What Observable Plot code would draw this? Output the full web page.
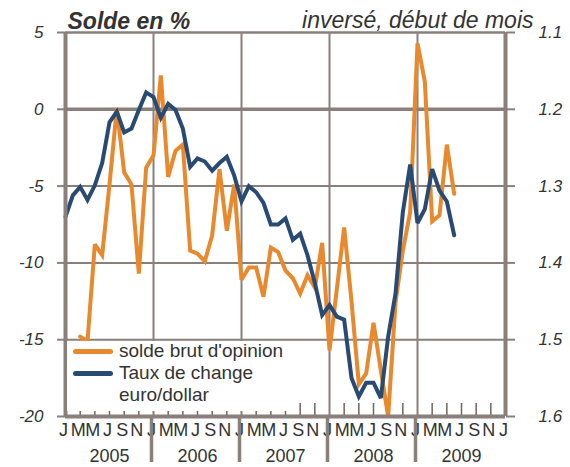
<!DOCTYPE html>
<html>
<head>
<meta charset="utf-8">
<script src="https://cdn.jsdelivr.net/npm/d3@7"></script>
<script src="https://cdn.jsdelivr.net/npm/@observablehq/plot@0.6"></script>
<style>
  html, body { margin: 0; padding: 0; background: #fff; }
  #wrap { position: relative; width: 570px; height: 467px; font-family: "Liberation Sans", Arial, Helvetica, sans-serif; }
  #legend { position: absolute; left: 67px; top: 341px; width: 232px; height: 70px; background: #fff; color: #333; font-size: 19px; }
  #legend .sw { position: absolute; left: 6px; width: 40px; height: 4.5px; border-radius: 3px; }
  #legend .lb { position: absolute; left: 52px; line-height: 22px; white-space: nowrap; }
</style>
</head>
<body>
<div id="wrap"></div>
<script>
// ---- data ----
const years = ["2005", "2006", "2007", "2008", "2009"];
const monthLabels = ["J", "M", "M", "J", "S", "N"];
const leftTicks = [-20, -15, -10, -5, 0, 5];
const rateTicks = [1.1, 1.2, 1.3, 1.4, 1.5, 1.6];

// solde brut d'opinion, monthly from March 2005 (index 2)
const soldeStart = 2;
const solde = [
  -14.8, -15.1, -8.8, -9.5, -4.9, 0.05, -4.1, -4.9, -10.7, -3.8,
  -3.0, 2.2, -4.4, -2.7, -2.3, -9.2, -9.4, -9.9, -8.2, -3.9, -7.9, -4.9,
  -11.1, -10.3, -10.3, -12.2, -9.0, -9.3, -10.5, -11.0, -12.0, -10.8, -11.6, -8.7,
  -15.7, -11.7, -7.7, -12.5, -17.9, -17.2, -13.9, -17.0, -20.0, -12.6, -9.2, -6.7,
  4.3, 1.8, -7.3, -6.9, -2.3, -5.5
];

// taux de change euro/dollar (début de mois), monthly from January 2005 (index 0)
const tauxStart = 0;
const taux = [
  1.340, 1.312, 1.301, 1.318, 1.299, 1.270, 1.217, 1.203, 1.230, 1.225, 1.201, 1.178,
  1.184, 1.211, 1.193, 1.201, 1.225, 1.275, 1.264, 1.268, 1.280, 1.270, 1.262, 1.286,
  1.320, 1.300, 1.308, 1.322, 1.350, 1.350, 1.342, 1.370, 1.362, 1.390, 1.426, 1.468,
  1.455, 1.470, 1.474, 1.550, 1.574, 1.556, 1.556, 1.576, 1.496, 1.440, 1.334, 1.272,
  1.348, 1.330, 1.278, 1.306, 1.320, 1.364
];

// ---- helpers ----
// right axis (inverted rate) expressed on the left scale: 1.1 -> 5, 1.6 -> -20
const rateToLeft = r => 5 - (r - 1.1) * 50;

const soldeData = solde.map((v, i) => ({m: soldeStart + i, v}));
const tauxData = taux.map((r, i) => ({m: tauxStart + i, v: rateToLeft(r)}));

const nMonths = years.length * 12;
const yearBounds = d3.range(12, nMonths, 12);
const monthTicks = d3.range(2, nMonths, 2).filter(d => d % 12 !== 0);
const labelPos = d3.range(0, nMonths + 1, 2);
const yearCenters = years.map((y, i) => i * 12 + 6);

const gray = "#8a7f7b";
const orange = "#e8892e";
const blue = "#294a72";
const textCol = "#333";

const mT = 32, mB = 51, H = 467;
const plotH = H - mT - mB;

const chart = Plot.plot({
  width: 570,
  height: H,
  marginLeft: 65,
  marginRight: 65,
  marginTop: mT,
  marginBottom: mB,
  style: {fontFamily: '"Liberation Sans", Arial, Helvetica, sans-serif', color: textCol, background: "#fff"},
  x: {domain: [0, nMonths], label: null},
  y: {domain: [-20, 5], label: null},
  marks: [
    // grid
    Plot.ruleY([-15, -10, -5], {stroke: gray, strokeWidth: 2}),
    Plot.ruleX(yearBounds, {stroke: gray, strokeWidth: 2}),
    Plot.ruleY([0], {stroke: gray, strokeWidth: 3.5}),
    Plot.ruleY([5], {stroke: gray, strokeWidth: 2.5}),
    // month ticks inside the frame
    Plot.ruleX(monthTicks, {stroke: "#6e6461", strokeWidth: 1.5, insetTop: plotH - 13}),
    // data
    Plot.line(soldeData, {x: "m", y: "v", stroke: orange, strokeWidth: 4, strokeLinejoin: "miter", strokeMiterlimit: 3}),
    Plot.line(tauxData, {x: "m", y: "v", stroke: blue, strokeWidth: 4, strokeLinejoin: "miter", strokeMiterlimit: 3}),
    // frame
    Plot.ruleX([0, nMonths], {stroke: gray, strokeWidth: 4}),
    Plot.ruleY([-20], {stroke: gray, strokeWidth: 4}),
    // y axes: ticks
    Plot.axisY(leftTicks, {anchor: "left", tickSize: 8, stroke: gray, strokeWidth: 2, tickFormat: () => "", label: null}),
    Plot.axisY(rateTicks.map(rateToLeft), {anchor: "right", tickSize: 9, stroke: gray, strokeWidth: 2, tickFormat: () => "", label: null}),
    // y axes: labels (italic)
    Plot.text(leftTicks, {y: d => d, frameAnchor: "left", dx: -22, textAnchor: "end", fontSize: 17, fontStyle: "italic", fill: textCol,
      text: d => String(d)}),
    Plot.text(rateTicks, {y: d => rateToLeft(d), frameAnchor: "right", dx: 33, textAnchor: "start", fontSize: 17, fontStyle: "italic", fill: textCol,
      text: d => d.toFixed(1)}),
    // x axis labels
    Plot.axisX(labelPos, {anchor: "bottom", tickSize: 0, tickPadding: 7, dx: -2, fontSize: 18, color: textCol, label: null,
      tickFormat: d => monthLabels[(d % 12) / 2]}),
    Plot.axisX(yearBounds, {anchor: "bottom", tickSize: 46, dx: -2, stroke: gray, strokeWidth: 3.5, tickFormat: () => "", label: null}),
    Plot.axisX(yearCenters, {anchor: "bottom", tickSize: 0, tickPadding: 33, fontSize: 18, color: textCol, label: null,
      tickFormat: d => years[(d - 6) / 12]}),
    // titles
    Plot.text(["Solde en %"], {frameAnchor: "top-left", dx: 2, dy: -4, lineAnchor: "bottom", fontSize: 23, fontWeight: "bold", fontStyle: "italic", fill: textCol}),
    Plot.text(["inversé, début de mois"], {frameAnchor: "top-right", textAnchor: "end", dx: 28, dy: -5, lineAnchor: "bottom", fontSize: 23, fontStyle: "italic", fill: textCol})
  ]
});

const wrap = document.getElementById("wrap");
wrap.appendChild(chart);

const legend = document.createElement("div");
legend.id = "legend";
legend.innerHTML = `
  <div class="sw" style="top:8px;background:${orange}"></div>
  <div class="lb" style="top:-1px">solde brut d'opinion</div>
  <div class="sw" style="top:30px;background:${blue}"></div>
  <div class="lb" style="top:21px">Taux de change</div>
  <div class="lb" style="top:43px">euro/dollar</div>`;
wrap.appendChild(legend);
</script>
</body>
</html>
